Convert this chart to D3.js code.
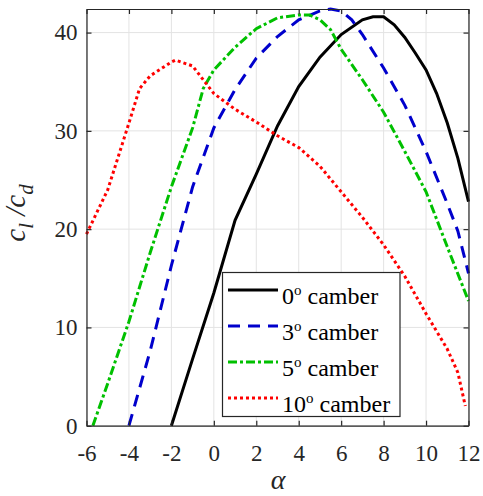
<!DOCTYPE html>
<html>
<head>
<meta charset="utf-8">
<script src="https://cdn.jsdelivr.net/npm/d3@7"></script>
</head>
<body style="margin:0">
<div id="chart"></div>
<script>
// data
let alpha0 = [-2, -1, 0, 1, 2, 3, 4, 5, 6, 7, 7.5, 8, 8.5, 9, 9.5, 10, 10.5, 11, 11.5, 12];
let ratio0 = [0, 6.8, 13.5, 20.9, 25.6, 30.5, 34.5, 37.5, 39.8, 41.3, 41.6, 41.6, 40.8, 39.5, 37.9, 36.2, 33.8, 30.8, 27.2, 22.8];

let alpha3 = [-4, -3, -2, -1, 0, 1, 2, 3, 4, 5, 5.5, 6, 6.5, 7, 8, 9, 10, 11, 11.5, 12];
let ratio3 = [0, 7.6, 16.3, 24.3, 30.3, 34.2, 37.4, 39.6, 41.3, 42.2, 42.4, 42.2, 41.3, 39.8, 36.4, 32.6, 27.9, 22.6, 19.8, 15.5];

let alpha5 = [-5.7, -5, -4, -3, -2, -1, -0.5, 0, 1, 2, 3, 4, 4.5, 5, 5.5, 6, 7, 8, 9, 10, 11, 12];
let ratio5 = [0, 4.3, 10.6, 17.6, 24.3, 30.3, 34.3, 36.2, 38.5, 40.4, 41.5, 41.8, 41.8, 41.3, 40.3, 38.3, 35.2, 31.9, 27.9, 23.8, 18.2, 12.7];

let alpha10 = [-6, -5, -4, -3.5, -3, -2, -1.8, -1, 0, 1, 2, 3, 4, 5, 6, 7, 8, 9, 10, 11, 11.5, 11.85];
let ratio10 = [19.5, 24.0, 30.8, 34.3, 35.6, 37.0, 37.2, 36.6, 33.8, 32.2, 30.9, 29.5, 28.3, 26.4, 23.8, 21.2, 18.4, 15.2, 11.4, 7.8, 5.4, 2.0];

let labels = ["0", "3", "5", "10"];
let xTicks = [-6, -4, -2, 0, 2, 4, 6, 8, 10, 12];
let yTicks = [0, 10, 20, 30, 40];

/** CONSTANTS */
let width = 483,
  height = 496,
  serif = '"Liberation Serif"',
  margin = { top: 9, bottom: 70.3, left: 86.5, right: 14.5 };

let series = [
  { label: labels[0], a: alpha0, c: ratio0, color: "#000000", dash: null },
  { label: labels[1], a: alpha3, c: ratio3, color: "#0000cc", dash: "12,8" },
  { label: labels[2], a: alpha5, c: ratio5, color: "#00c000", dash: "9,3,3,3" },
  { label: labels[3], a: alpha10, c: ratio10, color: "#ff0000", dash: "3,3" }
];

/** SCALES */
let xScale = d3.scaleLinear()
  .domain([-6, 12])
  .range([margin.left, width - margin.right]);

let yScale = d3.scaleLinear()
  .domain([0, 42.4])
  .range([height - margin.bottom, margin.top]);

/** MAIN CODE */
let svg = d3.select("#chart")
  .append("svg")
  .attr("width", width)
  .attr("height", height)
  .style("font-family", serif);

// grid
svg.append("g")
  .selectAll("line")
  .data(xTicks)
  .join("line")
  .attr("x1", d => xScale(d)).attr("x2", d => xScale(d))
  .attr("y1", yScale.range()[0]).attr("y2", yScale.range()[1])
  .attr("stroke", "#e3e3e3").attr("stroke-width", 1);

svg.append("g")
  .selectAll("line")
  .data(yTicks)
  .join("line")
  .attr("y1", d => yScale(d)).attr("y2", d => yScale(d))
  .attr("x1", xScale.range()[0]).attr("x2", xScale.range()[1])
  .attr("stroke", "#e3e3e3").attr("stroke-width", 1);

// curves
let line = d3.line()
  .x(d => xScale(d[0]))
  .y(d => yScale(d[1]));

let plot = svg.append("g");
series.forEach(s => {
  plot.append("path")
    .datum(s.a.map((v, i) => [v, s.c[i]]))
    .attr("d", line)
    .attr("fill", "none")
    .attr("stroke", s.color)
    .attr("stroke-width", 3)
    .attr("stroke-dasharray", s.dash);
});

// axes, ticks pointing in
let styleAxis = g => {
  g.attr("font-family", null).attr("font-size", null);
  g.select(".domain").attr("stroke", "#262626").attr("stroke-width", 1.2);
  g.selectAll(".tick line").attr("stroke", "#262626").attr("stroke-width", 1.2);
  g.selectAll("text")
    .style("font-family", serif)
    .style("font-size", "23px")
    .style("fill", "#262626");
};

svg.append("g")
  .attr("transform", `translate(0, ${height - margin.bottom})`)
  .call(d3.axisBottom(xScale).tickValues(xTicks).tickSize(-5).tickSizeOuter(0).tickPadding(19)
    .tickFormat(d => String(d)))
  .call(styleAxis);

svg.append("g")
  .attr("transform", `translate(0, ${margin.top})`)
  .call(d3.axisTop(xScale).tickValues(xTicks).tickSize(-5).tickSizeOuter(0).tickFormat(""))
  .call(styleAxis);

svg.append("g")
  .attr("transform", `translate(${margin.left}, 0)`)
  .call(d3.axisLeft(yScale).tickValues(yTicks).tickSize(-5).tickSizeOuter(0).tickPadding(9)
    .tickFormat(d => String(d)))
  .call(styleAxis);

svg.append("g")
  .attr("transform", `translate(${width - margin.right}, 0)`)
  .call(d3.axisRight(yScale).tickValues(yTicks).tickSize(-5).tickSizeOuter(0).tickFormat(""))
  .call(styleAxis);

// axis labels
svg.append("text")
  .attr("x", 278)
  .attr("y", 489)
  .attr("text-anchor", "middle")
  .style("font-family", serif)
  .style("font-size", "28px")
  .style("font-style", "italic")
  .style("fill", "#262626")
  .text("\u03B1");

let ylab = svg.append("text")
  .attr("transform", "translate(25, 213) rotate(-90)")
  .attr("text-anchor", "middle")
  .style("font-family", serif)
  .style("font-size", "29px")
  .style("font-style", "italic")
  .style("fill", "#262626");
ylab.append("tspan").text("c");
ylab.append("tspan").style("font-size", "21px").attr("dy", 8).text("l");
ylab.append("tspan").attr("dy", -8).text(" /c");
ylab.append("tspan").style("font-size", "21px").attr("dy", 8).text("d");

// legend
let legend = svg.append("g");
legend.append("rect")
  .attr("x", 222.5).attr("y", 272.5)
  .attr("width", 177.5).attr("height", 144)
  .attr("fill", "#fff")
  .attr("stroke", "#262626").attr("stroke-width", 1.2);

let rows = legend.selectAll("g.row")
  .data(series)
  .join("g")
  .attr("class", "row")
  .attr("transform", (d, i) => `translate(0, ${290 + i * 36})`);

rows.append("line")
  .attr("x1", 228).attr("x2", 278)
  .attr("stroke", d => d.color)
  .attr("stroke-width", 3)
  .attr("stroke-dasharray", d => d.dash);

let lt = rows.append("text")
  .attr("x", 282)
  .attr("y", 14)
  .style("font-family", serif)
  .style("font-size", "24px")
  .style("fill", "#000");
lt.append("tspan").text(d => d.label);
lt.append("tspan").style("font-size", "15px").attr("dy", -9).text("o");
lt.append("tspan").attr("dy", 9).text(" camber");
</script>
</body>
</html>
